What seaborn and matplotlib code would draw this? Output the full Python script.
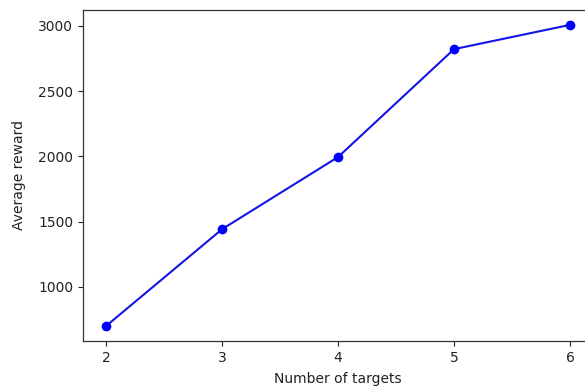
import matplotlib
matplotlib.use("Agg")
import matplotlib.pyplot as plt
import seaborn as sns
import pandas as pd

# Average reward by number of targets
num_targets = [2, 3, 4, 5, 6]
avg_reward = [700, 1442, 1995, 2822, 3008]
x_ticks = [2, 3, 4, 5, 6]
y_ticks = [1000, 1500, 2000, 2500, 3000]

sns.set_style("ticks")
plt.rcParams["font.family"] = ["DejaVu Sans"]

df = pd.DataFrame({"targets": num_targets, "reward": avg_reward})

fig = plt.figure(figsize=(5.85, 3.9), dpi=100)
ax = fig.add_axes([0.142, 0.126, 0.872, 0.849])

sns.lineplot(data=df, x="targets", y="reward", ax=ax, color="#1414e6",
             marker="o", markersize=7, markeredgewidth=0,
             markerfacecolor="blue", linewidth=1.5)

ax.set_xticks(x_ticks)
ax.set_yticks(y_ticks)
ax.set_xlim(1.8, 6.2)
ax.set_ylim(585, 3124)
ax.set_xlabel("Number of targets", fontsize=10, color="#222222", labelpad=5)
ax.set_ylabel("Average reward", fontsize=10, color="#222222", labelpad=9)
ax.tick_params(labelsize=10, colors="#222222", length=3.5, width=0.8)
for s in ax.spines.values():
    s.set_visible(True)
    s.set_color("#333333")
    s.set_linewidth(0.9)

fig.savefig("out.png", dpi=100)
